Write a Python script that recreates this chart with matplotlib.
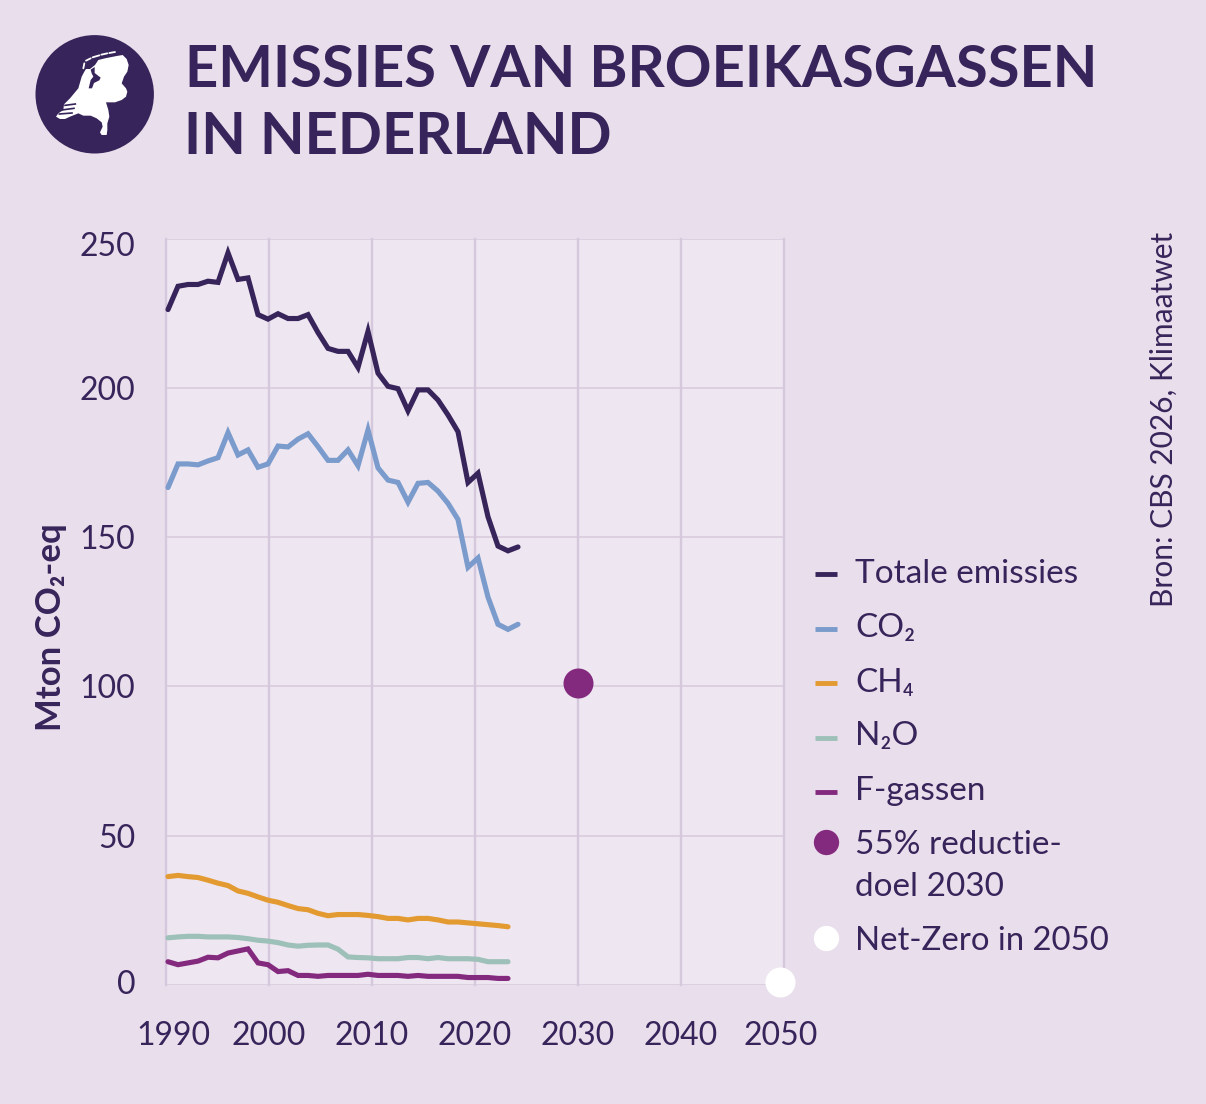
import numpy as np
import matplotlib
matplotlib.use("Agg")
import matplotlib.pyplot as plt
from matplotlib.patches import Circle, Polygon
from matplotlib.transforms import ScaledTranslation

BG = "#E9DEEB"
PLOT_BG = "#EEE6F1"
GRID = "#D6C8DC"
INK = "#37245A"
BLUE = "#7A9BCB"
ORANGE = "#E39A30"
TEAL = "#9DC0B8"
PURPLE = "#842A7E"

plt.rcParams["font.family"] = ["Lato", "DejaVu Sans"]

years = list(range(1990, 2026))
total = [226.2, 234.0, 234.6, 234.6, 235.7, 235.3, 245.2, 236.3, 236.8, 224.5,
         223.0, 224.8, 223.2, 223.2, 224.5, 218.5, 213.2, 212.2, 212.2, 206.8,
         218.9, 204.9, 200.5, 199.7, 192.3, 199.3, 199.3, 195.9, 190.9, 185.3,
         168.3, 171.4, 156.8, 147.0, 145.4, 146.7]
co2 = [166.6, 174.5, 174.5, 174.2, 175.5, 176.6, 185.0, 177.5, 179.2, 173.4,
       174.5, 180.5, 180.2, 182.8, 184.6, 180.3, 175.7, 175.7, 179.2, 173.9,
       185.9, 173.2, 169.1, 168.3, 161.7, 168.0, 168.3, 165.4, 161.3, 155.9,
       139.9, 143.0, 129.9, 120.8, 119.1, 120.8]
ch4 = [36.3, 36.7, 36.3, 36.0, 35.1, 34.1, 33.3, 31.5, 30.7, 29.5,
       28.4, 27.7, 26.6, 25.6, 25.2, 24.0, 23.2, 23.6, 23.6, 23.6,
       23.3, 22.9, 22.3, 22.3, 21.8, 22.3, 22.3, 21.8, 21.1, 21.1,
       20.8, 20.5, 20.2, 19.9, 19.5]
n2o = [15.8, 16.1, 16.3, 16.3, 16.1, 16.1, 16.1, 15.9, 15.5, 15.0,
       14.7, 14.2, 13.4, 13.0, 13.3, 13.4, 13.4, 12.0, 9.4, 9.2,
       9.1, 8.8, 8.8, 8.8, 9.2, 9.2, 8.8, 9.2, 8.8, 8.8,
       8.8, 8.6, 7.8, 7.8, 7.8]
fgas = [7.8, 6.8, 7.4, 8.0, 9.3, 9.1, 10.7, 11.4, 12.1, 7.4,
        6.8, 4.5, 4.8, 3.2, 3.2, 2.9, 3.2, 3.2, 3.2, 3.2,
        3.6, 3.2, 3.2, 3.2, 2.9, 3.2, 2.9, 2.9, 2.9, 2.9,
        2.5, 2.5, 2.5, 2.2, 2.2]
goal_year, goal_value = 2030, 101.3
netzero_year, netzero_value = 2049.7, 1.1

y_ticks = [0, 50, 100, 150, 200, 250]
x_ticks = [1990, 2000, 2010, 2020, 2030, 2040, 2050]

series = [("Totale emissies", total, INK),
          ("CO\u2082", co2, BLUE),
          ("CH\u2084", ch4, ORANGE),
          ("N\u2082O", n2o, TEAL),
          ("F-gassen", fgas, PURPLE)]

W, H = 1206, 1104
fig = plt.figure(figsize=(W / 100, H / 100), dpi=100, facecolor=BG)

# Gridded chart area, positioned in pixels
L, R, T, B = 166.0, 783.5, 238.5, 985.0
ax = fig.add_axes([L / W, 1 - B / H, (R - L) / W, (B - T) / H], facecolor=PLOT_BG)
ax.set_xlim(1990, 2050)
ax.set_ylim(0, 250)
for s in ax.spines.values():
    s.set_visible(False)
ax.set_xticks(x_ticks)
ax.set_yticks(y_ticks)
ax.set_xticklabels([str(v) for v in x_ticks])
ax.set_yticklabels([str(v) for v in y_ticks])
ax.tick_params(length=0, labelcolor=INK, labelsize=23)
ax.tick_params(axis="x", pad=26)
ax.tick_params(axis="y", pad=22)
ax.grid(axis="x", color=GRID, lw=1.7, clip_on=False)
ax.grid(axis="y", color=GRID, lw=1.1)
ax.set_axisbelow(True)

# Small nudges to the outer tick labels
def nudge(label, dx, dy):
    label.set_transform(label.get_transform() + ScaledTranslation(dx / 100, dy / 100, fig.dpi_scale_trans))
xl = ax.get_xticklabels()
yl = ax.get_yticklabels()
nudge(xl[0], 7, 0)
nudge(xl[-1], -3, 0)
nudge(yl[-1], 0, -6)
nudge(yl[0], 0, 3)

# The yearly series run on their own slightly tighter x scale
ax_lines = ax.twiny()
ax_lines.set_xlim(1989.8, 1989.8 + (R - L) / 10.0)
ax_lines.axis("off")
for _, vals, col in series:
    ax_lines.plot(years[:len(vals)], vals, color=col, lw=3.7,
                  solid_capstyle="round", solid_joinstyle="miter", clip_on=False)

ax_marks = ax.twiny()
ax_marks.set_xlim(1990, 2050)
ax_marks.axis("off")
ax_marks.scatter([goal_year], [goal_value], s=467, color=PURPLE, linewidths=0, clip_on=False, zorder=5)
ax_marks.scatter([netzero_year], [netzero_value], s=467, color="white", linewidths=0, clip_on=False, zorder=5)

# Overlay in pixel coordinates for header, legend and side labels
ov = fig.add_axes([0, 0, 1, 1], facecolor="none")
ov.set_xlim(0, W)
ov.set_ylim(H, 0)
ov.axis("off")

ov.text(185, 87, "EMISSIES VAN BROEIKASGASSEN", color=INK, fontsize=41.8,
        fontweight="bold", va="baseline", ha="left")
ov.text(184, 154, "IN NEDERLAND", color=INK, fontsize=41.8,
        fontweight="bold", va="baseline", ha="left")

# Roundel with the outline of the Netherlands
ov.add_patch(Circle((94.7, 94.3), 59.2, color=INK, lw=0))
def icon(points):
    return [(50 + x / 3, 45 + y / 3) for x, y in points]
land = [(103, 80), (108, 72), (120, 72), (135, 60), (145, 45), (165, 40), (200, 33), (218, 30),
        (230, 42), (236, 60), (232, 80), (222, 95), (215, 115), (228, 130), (232, 140),
        (228, 155), (215, 165), (195, 172), (168, 172), (175, 195), (178, 215), (172, 235),
        (172, 255), (170, 270), (155, 270), (150, 262), (158, 245), (155, 232), (140, 220),
        (122, 212), (100, 212), (85, 205), (60, 215), (45, 222), (30, 222), (18, 215),
        (25, 205), (40, 195), (42, 178), (60, 160), (85, 130), (95, 95)]
inland_sea = [(122, 74), (134, 66), (134, 84), (152, 98), (148, 106), (132, 114), (126, 130),
              (116, 130), (122, 105), (130, 95), (125, 85)]
ov.add_patch(Polygon(icon(land), closed=True, color="white", lw=0))
ov.add_patch(Polygon(icon(inland_sea), closed=True, color=INK, lw=0))
for a, b in [((45, 181), (76, 177)), ((35, 195), (72, 190)), ((28, 207), (66, 204))]:
    ov.plot(*zip(*icon([a, b])), color=INK, lw=1.2)
for a, b in [((100, 70), (103, 55)), ((108, 47), (122, 40)), ((128, 37), (148, 31)),
             ((154, 29), (172, 25)), ((178, 24), (195, 21))]:
    ov.plot(*zip(*icon([a, b])), color="white", lw=1.3, solid_capstyle="round")

# Legend
TXT_X = 855
KEY = (815, 836.7)
key_y = [574.3, 629, 683, 737.5, 791.5]
base_y = [583.3, 637, 691.7, 745, 800]
for (name, _, col), ky, by in zip(series, key_y, base_y):
    ov.plot(KEY, [ky, ky], color=col, lw=3.5, solid_capstyle="butt")
    ov.text(TXT_X, by, name, color=INK, fontsize=24, va="baseline", ha="left")
ov.scatter([825.7], [841.7], s=332, color=PURPLE, linewidths=0)
ov.text(TXT_X, 854.3, "55% reductie-", color=INK, fontsize=24, va="baseline", ha="left")
ov.text(TXT_X, 895.7, "doel 2030", color=INK, fontsize=24, va="baseline", ha="left")
ov.scatter([825.7], [937.7], s=332, color="white", linewidths=0)
ov.text(TXT_X, 950, "Net-Zero in 2050", color=INK, fontsize=23.7, va="baseline", ha="left")

ov.text(51, 627, "Mton CO\u2082-eq", color=INK, fontsize=25, fontweight="bold",
        rotation=90, va="center", ha="center")
ov.text(1164, 419, "Bron: CBS 2026, Klimaatwet", color=INK, fontsize=21.5,
        rotation=90, va="center", ha="center")

fig.savefig("out.png", dpi=100, facecolor=BG)
